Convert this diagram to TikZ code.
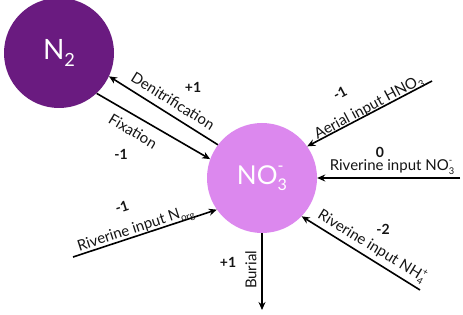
\documentclass[tikz,border=0pt]{standalone}
\usepackage{fontspec}
\setmainfont{Lato}
\usetikzlibrary{arrows.meta}
\definecolor{ntwo}{HTML}{6A1B80}
\definecolor{nothree}{HTML}{DC88EE}
\newcommand{\ssp}[2]{\mbox{\rlap{\raisebox{0.5em}{\fontsize{0.62em}{0.6em}\selectfont #2}}\raisebox{-0.25em}{\fontsize{0.62em}{0.6em}\selectfont #1}}}
\newcommand{\sbs}[1]{\raisebox{-0.25em}{\fontsize{0.65em}{0.6em}\selectfont #1}}
\begin{document}
\begin{tikzpicture}[x=1pt,y=-1pt,
  pool/.style={circle,inner sep=0pt,minimum size=110pt,text=white},
  flow/.style={line width=1.6pt,-{Stealth[length=8pt,width=7pt]}},
  lbl/.style={inner sep=0pt,font=\fontsize{15pt}{17pt}\selectfont,text=black!92},
  num/.style={inner sep=0pt,font=\fontsize{14pt}{16pt}\selectfont\bfseries,text=black!92}]
\useasboundingbox (0,0) rectangle (463,315);
\node[pool,fill=ntwo,font=\fontsize{28pt}{30pt}\selectfont] (n2) at (59,53) {N\sbs{2}};
\node[pool,fill=nothree,font=\fontsize{26pt}{28pt}\selectfont] (no3) at (262,178) {NO\ssp{3}{-}};
\coordinate (aer) at (432,81);
\coordinate (riv) at (460,178);
\coordinate (org) at (73,257);
\coordinate (bur) at (262,310);
\coordinate (nh4) at (420,290);
% connectors
\draw[flow] (no3.143) -- (n2.-25);
\draw[flow] (n2.-47) -- (no3.160);
\draw[flow] (aer) -- (no3.35);
\draw[flow] (riv) -- (no3.east);
\draw[flow] (org) -- (no3.215);
\draw[flow] (no3.south) -- (bur);
\draw[flow] (nh4) -- (no3.-44);
% labels
\node[lbl,rotate=-32] (tden) at (173,101) {Denitrification};
\node[num] (nden) at (193,87) {+1};
\node[lbl,rotate=-31] (tfix) at (133,131) {Fixation};
\node[num] (nfix) at (121,154) {-1};
\node[lbl,rotate=28] (taer) at (369,108) {Aerial input HNO\sbs{3}};
\node[num,rotate=28] (naer) at (340,93) {-1};
\node[lbl] (triv) at (392,167) {Riverine input NO\ssp{3}{-}};
\node[num] (nriv) at (380,152) {0};
\node[lbl,rotate=18] (torg) at (136,230) {Riverine input N\sbs{org}};
\node[num,rotate=18] (norg) at (122,207) {-1};
\node[lbl,rotate=90] (tbur) at (251,270) {Burial};
\node[num] (nbur) at (228,262) {+1};
\node[lbl,rotate=-31.6] (tnh4) at (372,246) {Riverine input NH\ssp{4}{+}};
\node[num] (nnh4) at (383,229) {-2};
\end{tikzpicture}
\end{document}
